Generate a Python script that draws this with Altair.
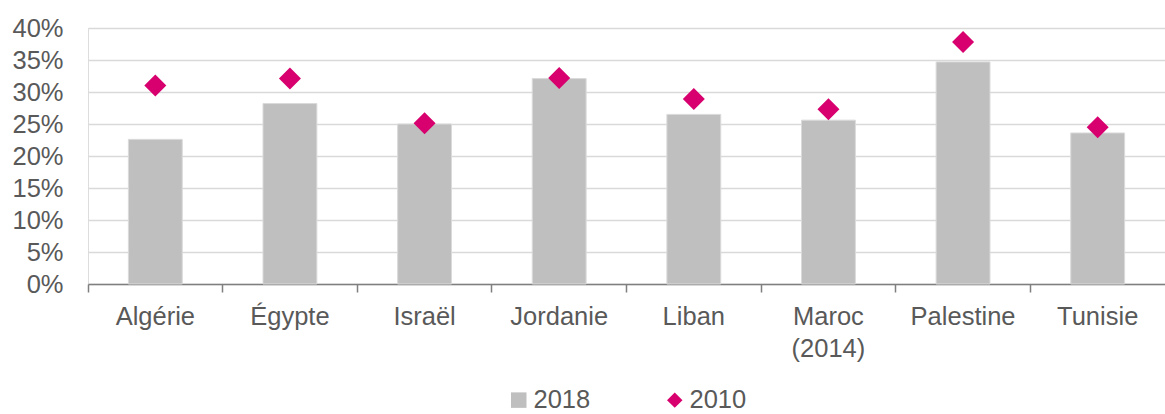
import altair as alt
import pandas as pd

countries = ["Algérie", "Égypte", "Israël", "Jordanie", "Liban", "Maroc\n(2014)", "Palestine", "Tunisie"]
values_2018 = [0.226, 0.282, 0.250, 0.321, 0.265, 0.256, 0.347, 0.236]
values_2010 = [0.310, 0.321, 0.251, 0.322, 0.289, 0.273, 0.378, 0.245]
series_names = ["2018", "2010"]
y_ticks = [0, 0.05, 0.10, 0.15, 0.20, 0.25, 0.30, 0.35, 0.40]

rows = []
for c, v in zip(countries, values_2018):
    rows.append({"country": c, "value": v, "series": "2018"})
for c, v in zip(countries, values_2010):
    rows.append({"country": c, "value": v, "series": "2010"})
df = pd.DataFrame(rows)

FONT = "Liberation Sans"
TXT = "#595959"

color_scale = alt.Scale(domain=series_names, range=["#BFBFBF", "#D7006E"])
shape_scale = alt.Scale(domain=series_names, range=["square", "diamond"])

x_enc = alt.X(
    "country:N",
    sort=countries,
    scale=alt.Scale(paddingInner=0, paddingOuter=0),
    axis=alt.Axis(
        title=None,
        labelAngle=0,
        labelExpr="split(datum.label, '\\n')",
        labelFont=FONT,
        labelFontSize=25.5,
        labelColor=TXT,
        labelPadding=12,
        labelLineHeight=32,
        labelBaseline="top",
        bandPosition=0,
        ticks=True,
        tickSize=8,
        tickColor="#7F7F7F",
        tickWidth=1.5,
        domainColor="#7F7F7F",
        domainWidth=1.5,
        grid=False,
        labelLimit=0,
    ),
)

y_enc = alt.Y(
    "value:Q",
    scale=alt.Scale(domain=[0, 0.4], nice=False),
    axis=alt.Axis(
        title=None,
        values=y_ticks,
        format=".0%",
        labelFont=FONT,
        labelFontSize=25.5,
        labelColor=TXT,
        labelPadding=25,
        ticks=False,
        domain=False,
        grid=True,
        gridColor="#D9D9D9",
        gridWidth=1.3,
    ),
)

legend = alt.Legend(
    title=None,
    orient="none",
    direction="horizontal",
    legendX=418,
    legendY=359,
    labelFont=FONT,
    labelFontSize=25.5,
    labelColor=TXT,
    symbolSize=240,
    labelOffset=2,
    columnPadding=71,
    padding=0,
    symbolStrokeWidth=0,
)

bars = alt.Chart(df).transform_filter(alt.datum.series == "2018").mark_bar(
    width=alt.RelativeBandSize(0.4), stroke="#DADADA", strokeWidth=1
).encode(
    x=x_enc,
    y=y_enc,
    color=alt.Color("series:N", scale=color_scale, legend=legend),
)

points = alt.Chart(df).transform_filter(alt.datum.series == "2010").mark_point(
    filled=True, size=484, opacity=1
).encode(
    x=x_enc,
    y=y_enc,
    color=alt.Color("series:N", scale=color_scale, legend=legend),
    shape=alt.Shape("series:N", scale=shape_scale, legend=legend),
)

chart = alt.layer(bars, points).properties(
    width=1077,
    height=256,
    autosize=alt.AutoSizeParams(type="none"),
    padding={"left": 88, "top": 28, "right": 0, "bottom": 130},
).configure_view(stroke=None).configure(background="white")

chart.save("out.html", embed_options={"renderer": "svg", "actions": False})
